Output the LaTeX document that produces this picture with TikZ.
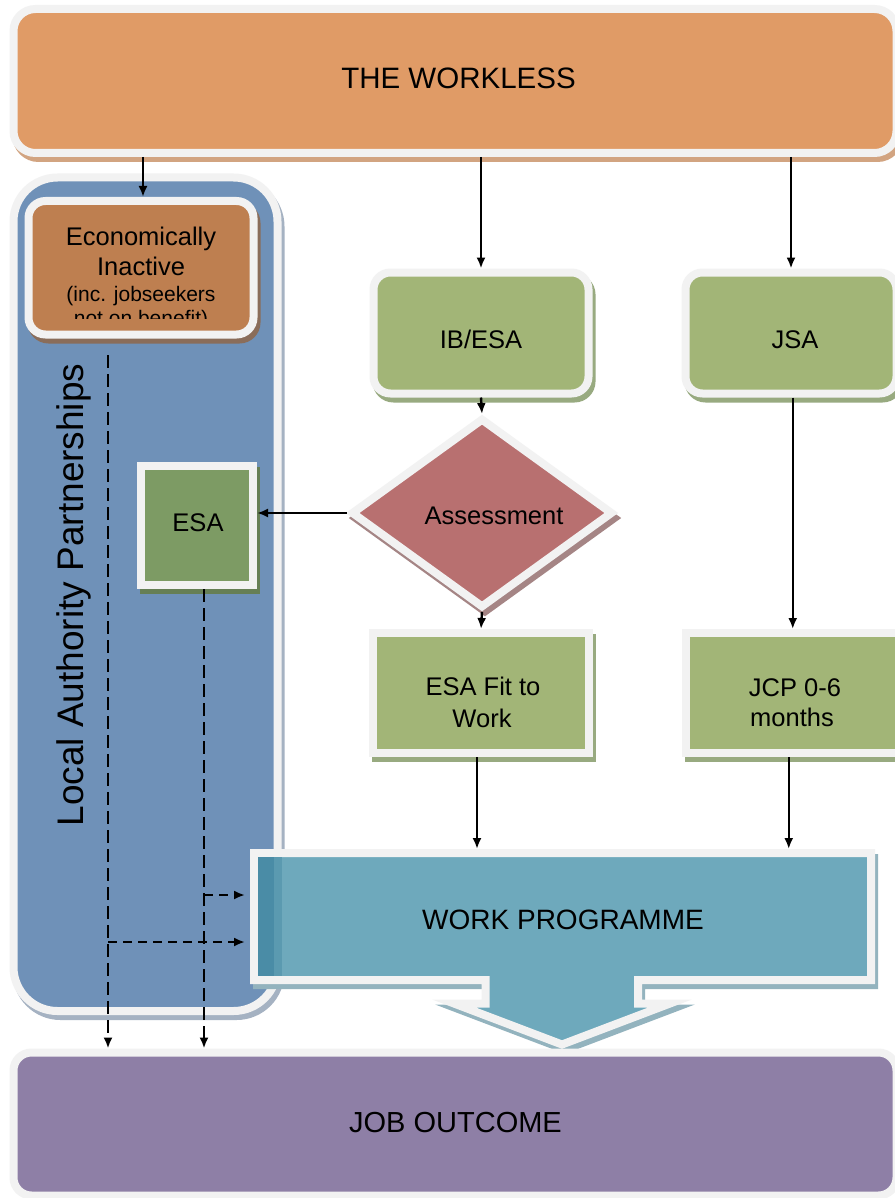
\documentclass[tikz,border=0pt]{standalone}
\usepackage{fontspec}
\setmainfont{Liberation Sans}
\usetikzlibrary{arrows.meta,shapes.geometric}
\definecolor{fr}{HTML}{F2F2F2}
\definecolor{orng}{HTML}{E09B66}
\definecolor{orngS}{HTML}{D2A481}
\definecolor{lablue}{HTML}{6F91B8}
\definecolor{lablueS}{HTML}{A5B2C2}
\definecolor{brwn}{HTML}{BE7F50}
\definecolor{brwnS}{HTML}{8A6D5A}
\definecolor{grn}{HTML}{A2B577}
\definecolor{grnS}{HTML}{98AA80}
\definecolor{esagrn}{HTML}{7D9B64}
\definecolor{esagrnS}{HTML}{667F55}
\definecolor{diam}{HTML}{B87070}
\definecolor{diamS}{HTML}{A58585}
\definecolor{teal}{HTML}{6EA9BC}
\definecolor{tealS}{HTML}{93B3BE}
\definecolor{tealD}{HTML}{4A8CA6}
\definecolor{tealM}{HTML}{5B9AB0}
\definecolor{purp}{HTML}{8E7FA6}
\newcommand{\bodyf}{\fontsize{25.5}{30}\selectfont}
\newcommand{\smallf}{\fontsize{21}{24}\selectfont}
\newcommand{\vertf}{\fontsize{37}{42}\selectfont}
\begin{document}
\begin{tikzpicture}[x=1pt,y=-1pt,
  rbox/.style={draw=fr, line width=8pt, fill=#1, inner sep=0pt, outer sep=4pt},
  shd/.style={preaction={draw=#1, fill=#1, line width=8pt, transform canvas={shift={(3pt,-5pt)}}}},
  txt/.style={inner sep=0pt, anchor=base, text=black},
  arr/.style={line width=2.4pt, -{Latex[length=11pt,width=9pt]}},
  darr/.style={line width=2.2pt, dash pattern=on 13pt off 6pt, -{Latex[length=11pt,width=9pt]}},
  hdarr/.style={line width=2.2pt, dash pattern=on 9pt off 6pt, -{Latex[length=11pt,width=9pt]}}
]
\useasboundingbox (0,0) rectangle (894,1198);
\fill[white] (0,0) rectangle (894,1198);

% top box
\node[rbox=orng, shd=orngS, rounded corners=22pt, minimum width=883pt, minimum height=144pt] (workless) at (455,81) {};
% Local Authority panel
\node[rbox=lablue, shd=lablueS, rounded corners=44pt, minimum width=264pt, minimum height=833.5pt] (panel) at (145.5,594.25) {};
% Economically inactive
\node[rbox=brwn, shd=brwnS, rounded corners=17pt, minimum width=225pt, minimum height=133.5pt] (econ) at (141,267.75) {};
% ESA (left)
\node[rbox=esagrn, shd=esagrnS, minimum width=112pt, minimum height=119.5pt] (esa) at (197,525.25) {};
% IB/ESA and JSA
\node[rbox=grn, shd=grnS, rounded corners=17pt, minimum width=215pt, minimum height=121pt] (ibesa) at (481,333) {};
\node[rbox=grn, shd=grnS, rounded corners=17pt, minimum width=211pt, minimum height=121pt] (jsa) at (791,333) {};
% Assessment diamond
\node[diamond, rbox=diam, shd=diamS, minimum width=262pt, minimum height=190pt] (assess) at (482,513) {};
% ESA fit to work and JCP
\node[rbox=grn, shd=grnS, minimum width=216pt, minimum height=120pt] (esafit) at (481,693) {};
\node[rbox=grn, shd=grnS, minimum width=214.5pt, minimum height=120pt] (jcp) at (792.75,693) {};

% Work programme block arrow
\draw[fill=teal, draw=fr, line width=8pt, miter limit=10, shd=tealS]
  (254,853) -- (871,853) -- (871,980) -- (638,980) -- (638,1003.5) -- (670,1003.5)
  -- (562,1044.5) -- (454,1003.5) -- (485.5,1003.5) -- (485.5,980) -- (254,980) -- cycle;
\fill[tealD] (258,857) rectangle (274,976);
\fill[tealM] (274,857) rectangle (282,976);
\node[inner sep=0pt, outer sep=0pt, minimum width=625pt, minimum height=135pt] (wp) at (562.5,916.5) {};

% Job outcome
\node[rbox=purp, rounded corners=18pt, minimum width=883pt, minimum height=143pt] (job) at (455,1124) {};

% texts
\node[txt, font=\fontsize{29.5}{34}\selectfont] (tworkless) at (458.5,89) {THE WORKLESS};
\node[txt, font=\bodyf] (tecon1) at (141,245) {Economically};
\node[txt, font=\bodyf] (tecon2) at (141,275) {Inactive};
\node[txt, font=\smallf] (tecon3) at (141,301.5) {(inc. jobseekers};
\begin{scope}
\clip (28,290) rectangle (255,318);
\node[txt, font=\smallf] (tecon4) at (141,325.5) {not on benefit)};
\end{scope}
\node[txt, font=\vertf, rotate=90] (tla) at (83,595) {Local Authority Partnerships};
\node[txt, font=\bodyf] (tesa) at (198,531.5) {ESA};
\node[txt, font=\bodyf] (tibesa) at (481,348.5) {IB/ESA};
\node[txt, font=\bodyf] (tjsa) at (795,348.5) {JSA};
\node[txt, font=\bodyf] (tassess) at (494,524) {Assessment};
\node[txt, font=\bodyf] (tfit1) at (483,695) {ESA Fit to};
\node[txt, font=\bodyf] (tfit2) at (482,727) {Work};
\node[txt, font=\bodyf] (tjcp1) at (795,696) {JCP 0-6};
\node[txt, font=\bodyf] (tjcp2) at (792,726.5) {months};
\node[txt, font=\fontsize{28}{32}\selectfont] (twp) at (563,929) {WORK PROGRAMME};
\node[txt, font=\fontsize{29}{33}\selectfont] (tjob) at (455.5,1132) {JOB OUTCOME};

% solid connectors
\draw[arr] ([xshift=2pt]workless.south -| econ.north) -- ([xshift=2pt]econ.north);
\draw[arr] (workless.south -| ibesa.north) -- (ibesa.north);
\draw[arr] (workless.south -| jsa.north) -- (jsa.north);
\draw[arr] (ibesa.south) -- (assess.north);
\draw[arr] (assess.west) -- (assess.west -| esa.east);
\draw[arr] (assess.south) -- (esafit.north);
\draw[arr] (jsa.south -| jcp.north) -- (jcp.north);
\draw[arr] ([xshift=-4pt]esafit.south) -- ([xshift=-4pt]esafit.south |- wp.north);
\draw[arr] ([xshift=-4pt]jcp.south) -- ([xshift=-4pt]jcp.south |- wp.north);

% dashed connectors
\coordinate (dl) at (108,355);
\coordinate (dr) at ([xshift=7pt]esa.south);
\coordinate (hr) at (dr |- 0,895);
\coordinate (hl) at (108,942);
\draw[darr] (dl) -- (dl |- job.north);
\draw[darr] (dr) -- (dr |- job.north);
\draw[hdarr, shorten >=5pt] (hr) -- (hr -| wp.west);
\draw[hdarr, shorten >=5pt] (hl) -- (hl -| wp.west);
\end{tikzpicture}
\end{document}
